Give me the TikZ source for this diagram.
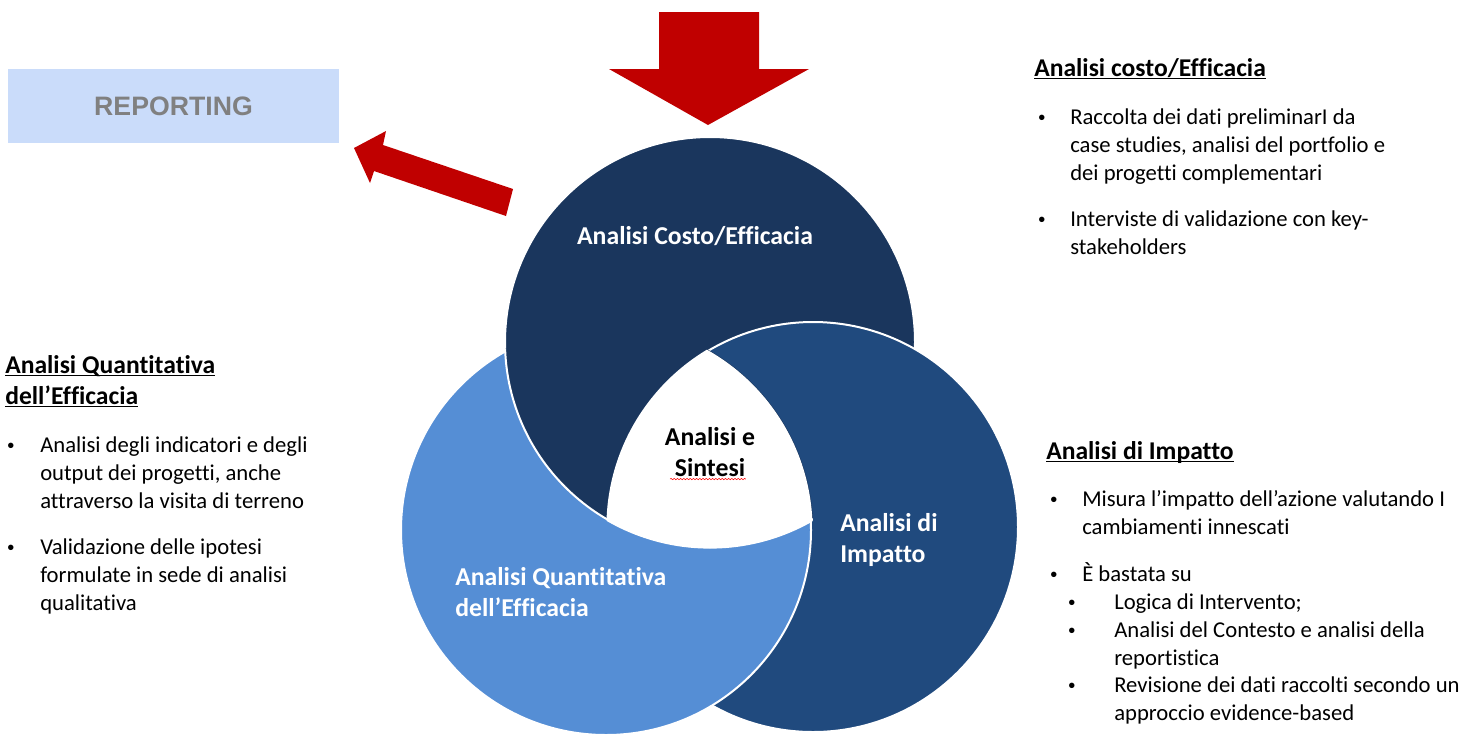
\documentclass[tikz,border=0pt]{standalone}
\usepackage{fontspec}
\setmainfont{Carlito}[Ligatures=NoCommon]
\newfontfamily\arialfont{Liberation Sans}
\usetikzlibrary{positioning,decorations.pathmorphing}

\definecolor{costoblue}{HTML}{1A365D}
\definecolor{impattoblue}{HTML}{204A7E}
\definecolor{quantiblue}{HTML}{558ED5}
\definecolor{arrowred}{HTML}{C00000}
\definecolor{reportfill}{HTML}{CADCFA}
\definecolor{reportgray}{HTML}{808080}

\newcommand{\ringradius}{153.75pt}
% bullet hanging to the left of a line
\newcommand{\bul}[1]{\llap{\makebox[#1][l]{\arialfont\fontsize{15}{15}\selectfont\textbullet}}}
% underline that ignores descenders
\newcommand{\headline}[1]{\underline{\raisebox{0pt}[\height][0pt]{#1}}}

\tikzset{
  ring/.style={draw=white, line width=1.5pt},
  ringlabel/.style={text=white, font=\fontsize{19.3}{23.5}\selectfont\bfseries, align=left, inner sep=0pt},
  heading/.style={font=\fontsize{19.2}{23.5}\selectfont\bfseries, anchor=north west, inner sep=0pt, align=left},
  bodytext/.style={font=\fontsize{17}{21}\selectfont, anchor=north west, inner sep=0pt, align=left},
  reportbox/.style={fill=reportfill, text=reportgray, font=\arialfont\fontsize{20}{24}\selectfont\bfseries,
    minimum width=248.25pt, minimum height=55.5pt, inner sep=0pt},
  redarrow/.style={fill=arrowred},
}

\begin{document}
\begin{tikzpicture}[x=0.75pt,y=-0.75pt]
\useasboundingbox (0,0) rectangle (1473,733);

% circle centres
\coordinate (ctop) at (710,342);
\coordinate (cleft) at (606,530);
\coordinate (cright) at (813,527);

% rings, each one lying over the next
\filldraw[ring, fill=costoblue] (ctop) circle[radius=\ringradius];
\filldraw[ring, fill=impattoblue] (cright) circle[radius=\ringradius];
\filldraw[ring, fill=quantiblue] (cleft) circle[radius=\ringradius];
\begin{scope}
  \clip (cleft) circle[radius=\ringradius+1.6pt];
  \filldraw[ring, fill=costoblue] (ctop) circle[radius=\ringradius];
\end{scope}
% hollow centre
\begin{scope}
  \clip (ctop) circle[radius=\ringradius+1.2pt];
  \clip (cleft) circle[radius=\ringradius+1.2pt];
  \fill[white] (cright) circle[radius=\ringradius+1.2pt];
\end{scope}

\node[ringlabel] (costolabel) at (695,236) {Analisi Costo/Efficacia};
\node[ringlabel, anchor=west] (impattolabel) at (840,540) {Analisi di\\Impatto};
\node[ringlabel, anchor=west] (quantilabel) at (455,592) {Analisi Quantitativa\\dell’Efficacia};
\node[ringlabel, text=black, align=center] (sintesi) at (710,452) {Analisi e\\Sintesi};
\draw[red, line width=0.4pt, decorate, decoration={snake, amplitude=0.5pt, segment length=2.4pt}]
  ([xshift=4pt, yshift=-1.5pt]sintesi.south west) -- ([xshift=-7pt, yshift=-1.5pt]sintesi.south east);

% arrows
\fill[redarrow] (659,12) -- (759,12) -- (759,69) -- (809,69) -- (708,125) -- (609,69) -- (659,69) -- cycle;
\fill[redarrow] (513,189) -- (383,145) -- (386,131) -- (354,148) -- (370,183) -- (374,171) -- (506,216) -- cycle;

\node[reportbox] (reporting) at (173.5,106) {REPORTING};

% Analisi costo/Efficacia
\node[heading] (costohead) at (1034,54) {\strut\headline{Analisi costo/Efficacia}};
\node[bodytext] (costo1) at (1070,104.4) {\strut\bul{24pt}Raccolta dei dati preliminarI da\\case studies, analisi del portfolio e\\dei progetti complementari};
\node[bodytext] (costo2) at (1070,206.4) {\strut\bul{24pt}Interviste di validazione con key-\\stakeholders};

% Analisi Quantitativa
\node[heading] (quantihead) at (5,351) {\strut\headline{Analisi Quantitativa}\\\headline{dell’Efficacia}};
\node[bodytext] (quanti1) at (40,432.4) {\strut\bul{24.75pt}Analisi degli indicatori e degli\\output dei progetti, anche\\attraverso la visita di terreno};
\node[bodytext] (quanti2) at (40,534.4) {\strut\bul{24.75pt}Validazione delle ipotesi\\formulate in sede di analisi\\qualitativa};

% Analisi di Impatto
\node[heading] (impattohead) at (1046,437) {\strut\headline{Analisi di Impatto}};
\node[bodytext] (impatto1) at (1082,486.4) {\strut\bul{24pt}Misura l’impatto dell’azione valutando I\\cambiamenti innescati};
\node[bodytext] (impatto2) at (1082,561.4) {\strut\bul{24pt}È bastata su};
\node[bodytext] (impatto3) at (1114,589.4) {\strut\bul{34.5pt}Logica di Intervento;};
\node[bodytext] (impatto4) at (1114,617.4) {\strut\bul{34.5pt}Analisi del Contesto e analisi della\\reportistica};
\node[bodytext] (impatto5) at (1114,672.4) {\strut\bul{34.5pt}Revisione dei dati raccolti secondo un\\approccio evidence-based};
\end{tikzpicture}
\end{document}
